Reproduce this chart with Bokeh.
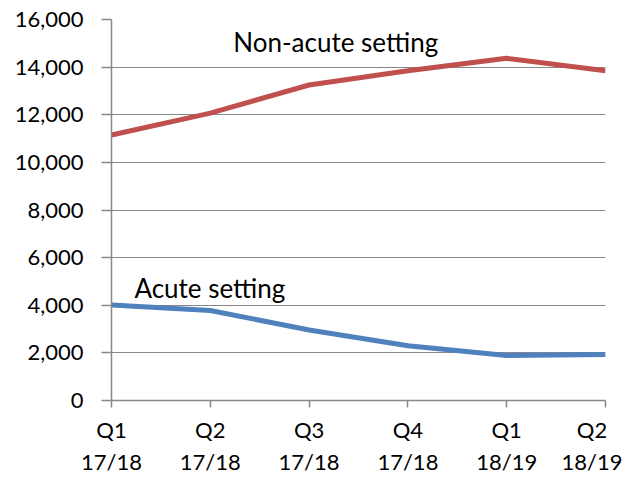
from bokeh.plotting import figure
from bokeh.models import FixedTicker, Label, Range1d
from bokeh.embed import file_html
from bokeh.resources import INLINE

quarters = ["Q1\n17/18", "Q2\n17/18", "Q3\n17/18", "Q4\n17/18", "Q1\n18/19", "Q2\n18/19"]
non_acute = [11150, 12070, 13250, 13850, 14370, 13850]
acute = [4010, 3780, 2960, 2300, 1890, 1930]
y_ticks = [0, 2000, 4000, 6000, 8000, 10000, 12000, 14000, 16000]

FONT = "Lato"
GRID = "#888888"

xs = list(range(len(quarters)))

p = figure(width=622, height=477, output_backend="svg", toolbar_location=None,
           x_range=Range1d(0, len(quarters) - 1), y_range=Range1d(0, 16000),
           min_border_left=111, min_border_top=19, min_border_right=17, min_border_bottom=77)
p.outline_line_color = None
p.xgrid.grid_line_color = None
p.ygrid.grid_line_color = GRID
p.ygrid.grid_line_width = 1

p.yaxis.ticker = FixedTicker(ticks=y_ticks)
p.yaxis.major_label_overrides = {t: f"{t:,}" for t in y_ticks}
p.xaxis.ticker = FixedTicker(ticks=xs)
p.xaxis.major_label_overrides = {i: q for i, q in zip(xs, quarters)}

for ax in (p.xaxis[0], p.yaxis[0]):
    ax.axis_line_color = GRID
    ax.axis_line_width = 1.5
    ax.major_tick_line_color = GRID
    ax.major_tick_line_width = 1.5
    ax.minor_tick_line_color = None
    ax.major_tick_in = 0
    ax.major_label_text_font = FONT
    ax.major_label_text_font_size = "22px"
    ax.major_label_text_color = "black"
p.yaxis.major_tick_out = 10
p.yaxis.major_label_standoff = 18
p.xaxis.major_tick_out = 7
p.xaxis.major_label_standoff = 8

p.line(xs, non_acute, line_color="#C0504D", line_width=5)
p.line(xs, acute, line_color="#4F81BD", line_width=5)

p.add_layout(Label(x=1.232, y=15060, text="Non-acute setting", text_font=FONT,
                   text_font_size="26px", text_baseline="middle", text_color="black"))
p.add_layout(Label(x=0.232, y=4720, text="Acute setting", text_font=FONT,
                   text_font_size="26px", text_baseline="middle", text_color="black"))

open("out.html", "w").write(file_html(p, INLINE))
